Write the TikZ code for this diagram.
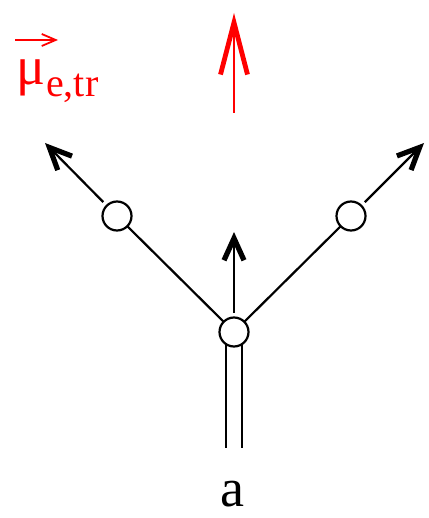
\documentclass[tikz,border=0pt]{standalone}
\usepackage{fontspec}
\setmainfont{Liberation Serif}
\usetikzlibrary{arrows.meta}

\begin{document}
\begin{tikzpicture}[
  x=0.5pt, y=-0.5pt,
  vertex/.style={draw, circle, fill=white, minimum size=14.5pt, inner sep=0pt, outer sep=0pt, line width=1.1pt},
  leg/.style={draw, line width=1.1pt},
  spin/.style={leg, -{Straight Barb[length=11pt, width=10pt, line width=2.6pt]}, shorten <=2.5pt},
  moment/.style={draw=red, line width=1pt, -{Straight Barb[length=26pt, width=13.5pt, line width=2.4pt]}},
  lbl/.style={anchor=base west, inner sep=0pt, text=red}
  ]
\useasboundingbox (0,0) rectangle (428,518);

% 꼭짓점과 화살표
\node[vertex] (c) at (234,332) {};
\node[vertex] (l) at (117,216) {};
\node[vertex] (r) at (351,216) {};
\coordinate (ltip) at (45,143);
\coordinate (rtip) at (424,143);
\coordinate (ctip) at (234,232);
\coordinate (bot) at (0,448);
\coordinate (mfoot) at (234,113);
\coordinate (mtip) at (234,13);

\draw[leg] (c) -- (l);
\draw[leg] (c) -- (r);
\draw[leg] (c.-122) -- (c.-122 |- bot);
\draw[leg] (c.-58) -- (c.-58 |- bot);
\draw[spin] (l) -- (ltip);
\draw[spin] (r) -- (rtip);
\draw[spin] (c) -- (ctip);
\draw[moment] (mfoot) -- (mtip);

\node[font=\fontsize{27}{32}\selectfont, anchor=base] (a) at (232.5,506) {a};
\node[lbl, font=\fontsize{27}{32}\selectfont] (mu) at (16,85) {μ};
\node[lbl, font=\fontsize{20}{24}\selectfont, yshift=-6pt] (sub) at (mu.base east) {e,tr};
\coordinate (vs) at (15,40);
\coordinate (ve) at (58,40);
\draw[red, line width=0.9pt, -{Straight Barb[length=7pt, width=6pt]}] (vs) -- (ve);

\end{tikzpicture}
\end{document}
